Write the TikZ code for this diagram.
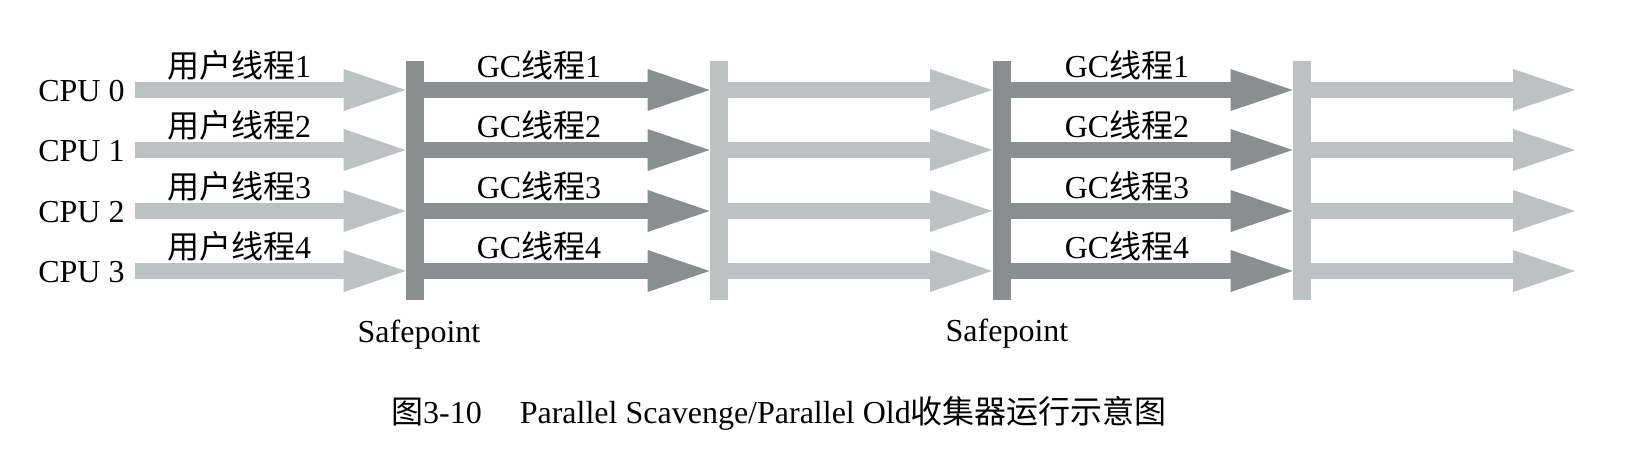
\documentclass[tikz,border=0pt]{standalone}
\usepackage{fontspec}
\setmainfont{Liberation Serif}
\newfontfamily\cjk{Noto Sans CJK SC}
\usetikzlibrary{arrows.meta}
\definecolor{lightgc}{RGB}{190,193,193}
\definecolor{darkgc}{RGB}{139,142,143}

\begin{document}
\begin{tikzpicture}[%
      x=0.5pt, y=-0.5pt,
      every node/.style={font=\fontsize{16pt}{19pt}\selectfont, inner sep=0pt},
      bar/.style={rectangle, minimum width=9pt, minimum height=119.5pt},
      fat/.style={line width=8pt, -{Triangle[length=31pt, width=21pt, line width=0pt]}},
      ]
      \useasboundingbox (0,0) rectangle (1634,460);

      % safepoint bars and the light bars between them
      \node [bar, fill=darkgc] (sp1) at (415,180.5) {};
      \node [bar, fill=lightgc] (mid1) at (719,180.5) {};
      \node [bar, fill=darkgc] (sp2) at (1001.5,180.5) {};
      \node [bar, fill=lightgc] (mid2) at (1302,180.5) {};

      \coordinate (s0) at (135,90);
      \coordinate (s1) at (135,150);
      \coordinate (s2) at (135,211);
      \coordinate (s3) at (135,271);
      \coordinate (e0) at (1575,90);
      \coordinate (e1) at (1575,150);
      \coordinate (e2) at (1575,211);
      \coordinate (e3) at (1575,271);

      \node [anchor=east] (cpu0) at (125,91) {CPU 0};
      \node [anchor=east] (cpu1) at (125,151) {CPU 1};
      \node [anchor=east] (cpu2) at (125,212) {CPU 2};
      \node [anchor=east] (cpu3) at (125,272) {CPU 3};

      % user threads
      \draw [fat, lightgc] (s0) -- (s0 -| sp1.west);
      \draw [fat, lightgc] (s1) -- (s1 -| sp1.west);
      \draw [fat, lightgc] (s2) -- (s2 -| sp1.west);
      \draw [fat, lightgc] (s3) -- (s3 -| sp1.west);

      % first gc
      \draw [fat, darkgc] (s0 -| sp1.east) -- (s0 -| mid1.west);
      \draw [fat, darkgc] (s1 -| sp1.east) -- (s1 -| mid1.west);
      \draw [fat, darkgc] (s2 -| sp1.east) -- (s2 -| mid1.west);
      \draw [fat, darkgc] (s3 -| sp1.east) -- (s3 -| mid1.west);

      \draw [fat, lightgc] (s0 -| mid1.east) -- (s0 -| sp2.west);
      \draw [fat, lightgc] (s1 -| mid1.east) -- (s1 -| sp2.west);
      \draw [fat, lightgc] (s2 -| mid1.east) -- (s2 -| sp2.west);
      \draw [fat, lightgc] (s3 -| mid1.east) -- (s3 -| sp2.west);

      % second gc
      \draw [fat, darkgc] (s0 -| sp2.east) -- (s0 -| mid2.west);
      \draw [fat, darkgc] (s1 -| sp2.east) -- (s1 -| mid2.west);
      \draw [fat, darkgc] (s2 -| sp2.east) -- (s2 -| mid2.west);
      \draw [fat, darkgc] (s3 -| sp2.east) -- (s3 -| mid2.west);

      \draw [fat, lightgc] (s0 -| mid2.east) -- (e0);
      \draw [fat, lightgc] (s1 -| mid2.east) -- (e1);
      \draw [fat, lightgc] (s2 -| mid2.east) -- (e2);
      \draw [fat, lightgc] (s3 -| mid2.east) -- (e3);

      \node (ut1) at (239,65) {{\cjk 用户线程}1};
      \node (ut2) at (239,125) {{\cjk 用户线程}2};
      \node (ut3) at (239,186) {{\cjk 用户线程}3};
      \node (ut4) at (239,246) {{\cjk 用户线程}4};

      \node (gca1) at (539,65) {GC{\cjk 线程}1};
      \node (gca2) at (539,125) {GC{\cjk 线程}2};
      \node (gca3) at (539,186) {GC{\cjk 线程}3};
      \node (gca4) at (539,246) {GC{\cjk 线程}4};

      \node (gcb1) at (1127,65) {GC{\cjk 线程}1};
      \node (gcb2) at (1127,125) {GC{\cjk 线程}2};
      \node (gcb3) at (1127,186) {GC{\cjk 线程}3};
      \node (gcb4) at (1127,246) {GC{\cjk 线程}4};

      \node [anchor=base] (safe1) at (419,342) {Safepoint};
      \node [anchor=base] (safe2) at (1007,341) {Safepoint};

      \node (caption) at (779,413) {{\cjk 图}3-10\hspace{19pt}Parallel Scavenge/Parallel Old{\cjk 收集器运行示意图}};
\end{tikzpicture}
\end{document}
